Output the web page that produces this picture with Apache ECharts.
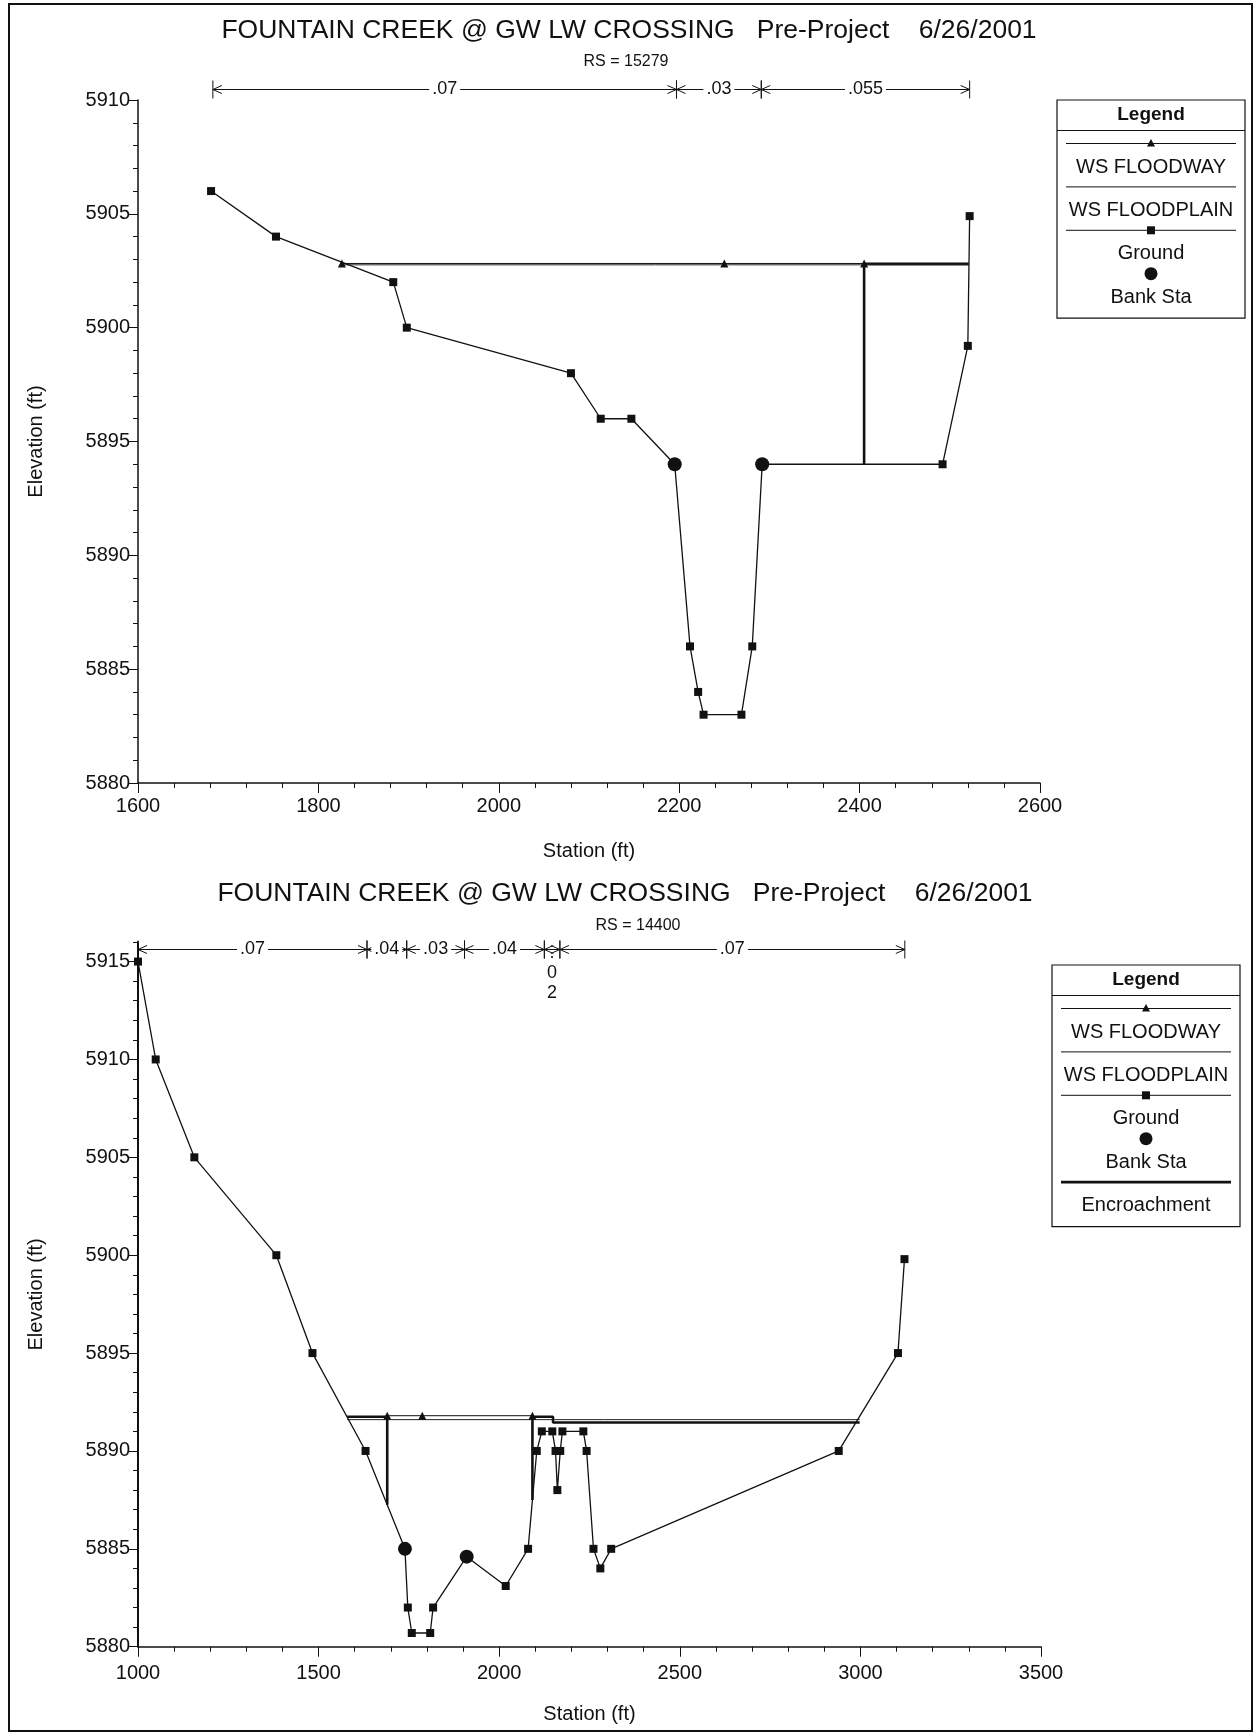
<!DOCTYPE html>
<html>
<head>
<meta charset="utf-8">
<script src="https://cdn.jsdelivr.net/npm/echarts@6.0.0/dist/echarts.min.js"></script>
<style>
  html, body { margin: 0; padding: 0; background: #ffffff; }
  #chart { width: 1256px; height: 1735px; }
</style>
</head>
<body>
<div id="chart"></div>
<script>
const FONT = "'Liberation Sans', Arial, Helvetica, sans-serif";
const INK = '#111111';

// ---------- Cross section RS = 15279 ----------
const title1 = 'FOUNTAIN CREEK @ GW LW CROSSING   Pre-Project    6/26/2001';
const rs1 = 'RS = 15279';
const groundSta1  = [1681, 1753, 1883, 1898, 2080, 2113, 2147, 2195, 2212, 2221, 2227, 2269, 2281, 2292, 2492, 2520, 2522];
const groundElev1 = [5906, 5904, 5902, 5900, 5898, 5896, 5896, 5894, 5886, 5884, 5883, 5883, 5886, 5894, 5894, 5899.2, 5904.9];
const bankSta1  = [2195, 2292];
const bankElev1 = [5894, 5894];
const floodwaySta1 = [1826, 2250, 2405];
const floodwayWs1 = 5902.82;
const floodplainSta1 = [1826, 2521];
const floodplainWs1 = 5902.76;
const encroachSta1  = [2405, 2405, 2521];
const encroachElev1 = [5894, 5902.8, 5902.8];
const nBreaks1 = [1683, 2197, 2291, 2522];
const nValues1 = ['.07', '.03', '.055'];
const xTicks1 = [1600, 1800, 2000, 2200, 2400, 2600];
const yTicks1 = [5880, 5885, 5890, 5895, 5900, 5905, 5910];

// ---------- Cross section RS = 14400 ----------
const title2 = 'FOUNTAIN CREEK @ GW LW CROSSING   Pre-Project    6/26/2001';
const rs2 = 'RS = 14400';
const groundSta2  = [1000, 1049, 1156, 1383, 1483, 1630, 1739, 1747, 1758, 1809, 1817, 1910, 2018, 2080, 2104, 2118, 2147, 2156, 2161, 2169, 2175, 2233, 2242, 2261, 2280, 2310, 2940, 3104, 3122];
const groundElev2 = [5915, 5910, 5905, 5900, 5895, 5890, 5885, 5882, 5880.7, 5880.7, 5882, 5884.6, 5883.1, 5885, 5890, 5891, 5891, 5890, 5888, 5890, 5891, 5891, 5890, 5885, 5884, 5885, 5890, 5895, 5899.8];
const bankSta2  = [1739, 1910];
const bankElev2 = [5885, 5884.6];
const floodwaySta2 = [1690, 1787, 2092];
const floodwayWs2 = 5891.8;
const floodplainSta2 = [1579, 2998];
const floodplainWs2 = 5891.6;
const encroachLeftSta2  = [1579, 1690, 1690];
const encroachLeftElev2 = [5891.75, 5891.75, 5887.25];
const encroachRightSta2  = [2092, 2092, 2149, 2149, 2998];
const encroachRightElev2 = [5887.5, 5891.75, 5891.75, 5891.45, 5891.45];
const nBreaks2 = [1000, 1634, 1744, 1904, 2125, 2168, 3123];
const nValues2 = ['.07', '.04', '.03', '.04', '.02', '.07'];
const xTicks2 = [1000, 1500, 2000, 2500, 3000, 3500];
const yTicks2 = [5880, 5885, 5890, 5895, 5900, 5905, 5910, 5915];
const yTop2 = 5916;

// elevation at which the Manning's n bar is drawn above each plot
const nBarElev1 = 5910.5;
const nBarElev2 = 5915.62;

const zip = (xs, ys) => xs.map((x, i) => [x, ys[i]]);
const flat = (xs, y) => xs.map(x => [x, y]);
const plain = v => String(v);

const axisLineStyle = { color: INK, width: 1.5 };
const tickStyle = { color: INK, width: 1 };

function xAxisFor(grid, ticks, labelMargin) {
  return {
    gridIndex: grid, type: 'value',
    min: ticks[0], max: ticks[ticks.length - 1], interval: ticks[1] - ticks[0],
    axisLine: { show: true, onZero: false, lineStyle: axisLineStyle },
    axisTick: { show: true, inside: false, length: 10, lineStyle: tickStyle },
    minorTick: { show: true, splitNumber: 5, length: 5, lineStyle: tickStyle },
    splitLine: { show: false }, minorSplitLine: { show: false },
    axisLabel: { color: INK, fontSize: 20, fontFamily: FONT, margin: labelMargin, formatter: plain },
    name: 'Station (ft)', nameLocation: 'middle', nameGap: 58,
    nameTextStyle: { color: INK, fontSize: 20, fontFamily: FONT }
  };
}

// Manning's n segments: arrows between break stations with the n value centred
function nBarSeries(grid, breaks, labels, elev) {
  return {
    type: 'custom', xAxisIndex: grid, yAxisIndex: grid === 0 ? 0 : 1,
    clip: false, silent: true, z: 5,
    data: breaks.slice(0, -1).map((b, i) => [b, breaks[i + 1]]),
    encode: { x: [0, 1] },
    renderItem: function (params, api) {
      const i = params.dataIndex;
      const p0 = api.coord([breaks[i], elev]);
      const p1 = api.coord([breaks[i + 1], elev]);
      const y = Math.round(p0[1]) + 0.5, x0 = p0[0], x1 = p1[0];
      const ls = { stroke: INK, lineWidth: 1, fill: null };
      const wide = (x1 - x0) > 34;
      const kids = [
        { type: 'line', shape: { x1: x0, y1: y, x2: x1, y2: y }, style: ls },
        { type: 'polyline', shape: { points: [[x0 + 9, y - 4], [x0, y], [x0 + 9, y + 4]] }, style: ls },
        { type: 'polyline', shape: { points: [[x1 - 9, y - 4], [x1, y], [x1 - 9, y + 4]] }, style: ls },
        { type: 'line', shape: { x1: x0, y1: y - 9, x2: x0, y2: y + 9 }, style: ls },
        { type: 'line', shape: { x1: x1, y1: y - 9, x2: x1, y2: y + 9 }, style: ls }
      ];
      if (wide) {
        kids.push({ type: 'text', x: (x0 + x1) / 2, y: y, z2: 10,
          style: { text: labels[i], fill: INK, font: '18px ' + FONT, align: 'center', verticalAlign: 'middle',
                   backgroundColor: '#ffffff', padding: [0, 3] } });
      } else {
        kids.push({ type: 'text', x: (x0 + x1) / 2, y: y - 6, z2: 10,
          style: { text: labels[i].split('').join('\n'), fill: INK, font: '18px ' + FONT, align: 'center',
                   verticalAlign: 'top', lineHeight: 20 } });
      }
      return { type: 'group', children: kids };
    }
  };
}

function lineSeries(grid, data, opts) {
  return Object.assign({
    type: 'line', xAxisIndex: grid, yAxisIndex: grid === 0 ? 0 : 1, data: data,
    symbol: 'none', animation: false, silent: true,
    lineStyle: { color: INK, width: 1 }, itemStyle: { color: INK }
  }, opts);
}

function sectionSeries(grid, s) {
  const out = [];
  s.encroach.forEach(e => out.push(lineSeries(grid, e, { lineStyle: { color: INK, width: 2.6 }, z: 3 })));
  out.push(lineSeries(grid, s.floodplain, { lineStyle: { color: '#222', width: 1 }, z: 3 }));
  out.push(lineSeries(grid, s.floodway, { symbol: 'triangle', symbolSize: 8, showAllSymbol: true, lineStyle: { color: INK, width: 1 }, z: 4 }));
  out.push(lineSeries(grid, s.ground, { symbol: 'rect', symbolSize: 8, showAllSymbol: true, lineStyle: { color: INK, width: 1.3 }, z: 6 }));
  out.push({ type: 'scatter', xAxisIndex: grid, yAxisIndex: grid === 0 ? 0 : 1, data: s.banks,
             symbol: 'circle', symbolSize: 14, itemStyle: { color: INK, opacity: 1, borderWidth: 0 }, z: 7, silent: true });
  return out;
}

// HEC-RAS style legend box: sample drawn above each label
function legendBox(left, top, width, kinds) {
  const kids = [];
  const right = left + width, cx = left + width / 2;
  const step = 43.4;
  const lastLabel = top + 43.5 + (kinds.length - 1) * step + 23.5;
  const bottom = lastLabel + 21;
  kids.push({ type: 'rect', shape: { x: left, y: top, width: width, height: bottom - top },
              style: { fill: '#ffffff', stroke: INK, lineWidth: 1.2 } });
  kids.push({ type: 'text', x: cx, y: top + 15, style: { text: 'Legend', font: 'bold 19px ' + FONT, fill: INK, align: 'center', verticalAlign: 'middle' } });
  kids.push({ type: 'line', shape: { x1: left, y1: top + 30.5, x2: right, y2: top + 30.5 }, style: { stroke: INK, lineWidth: 1 } });
  const names = { floodway: 'WS FLOODWAY', floodplain: 'WS FLOODPLAIN', ground: 'Ground', bank: 'Bank Sta', encroach: 'Encroachment' };
  kinds.forEach((k, i) => {
    const sy = top + 43.5 + i * step;
    const lx0 = left + 9, lx1 = right - 9;
    if (k === 'floodway' || k === 'floodplain' || k === 'ground') {
      kids.push({ type: 'line', shape: { x1: lx0, y1: sy, x2: lx1, y2: sy }, style: { stroke: INK, lineWidth: 1 } });
    }
    if (k === 'encroach') {
      kids.push({ type: 'line', shape: { x1: lx0, y1: sy, x2: lx1, y2: sy }, style: { stroke: INK, lineWidth: 2.6 } });
    }
    if (k === 'floodway') {
      kids.push({ type: 'polygon', shape: { points: [[cx, sy - 4.5], [cx + 4, sy + 3], [cx - 4, sy + 3]] }, style: { fill: INK } });
    }
    if (k === 'ground') {
      kids.push({ type: 'rect', shape: { x: cx - 4, y: sy - 4, width: 8, height: 8 }, style: { fill: INK } });
    }
    if (k === 'bank') {
      kids.push({ type: 'circle', shape: { cx: cx, cy: sy, r: 6.5 }, style: { fill: INK } });
    }
    kids.push({ type: 'text', x: cx, y: sy + 23.5, style: { text: names[k], font: '20px ' + FONT, fill: INK, align: 'center', verticalAlign: 'middle' } });
  });
  return { type: 'group', silent: true, children: kids };
}

function centredText(x, y, text, size) {
  return { type: 'text', x: x, y: y, silent: true,
           style: { text: text, font: size + 'px ' + FONT, fill: INK, align: 'center', verticalAlign: 'middle' } };
}

const section1 = {
  ground: zip(groundSta1, groundElev1),
  banks: zip(bankSta1, bankElev1),
  floodway: flat(floodwaySta1, floodwayWs1),
  floodplain: flat(floodplainSta1, floodplainWs1),
  encroach: [zip(encroachSta1, encroachElev1)]
};
const section2 = {
  ground: zip(groundSta2, groundElev2),
  banks: zip(bankSta2, bankElev2),
  floodway: flat(floodwaySta2, floodwayWs2),
  floodplain: flat(floodplainSta2, floodplainWs2),
  encroach: [zip(encroachLeftSta2, encroachLeftElev2), zip(encroachRightSta2, encroachRightElev2)]
};

const yLabelStyle = { color: INK, fontSize: 20, fontFamily: FONT, margin: 8, formatter: plain };
const yNameStyle = { color: INK, fontSize: 20, fontFamily: FONT };

const option = {
  backgroundColor: '#ffffff',
  animation: false,
  grid: [
    { left: 138, top: 100, width: 902, height: 683 },
    { left: 138, top: 942, width: 903, height: 704.7 }
  ],
  xAxis: [xAxisFor(0, xTicks1, 13), xAxisFor(1, xTicks2, 17)],
  yAxis: [
    {
      gridIndex: 0, type: 'value',
      min: yTicks1[0], max: yTicks1[yTicks1.length - 1], interval: yTicks1[1] - yTicks1[0],
      axisLine: { show: true, onZero: false, lineStyle: axisLineStyle },
      axisTick: { show: true, inside: false, length: 10, lineStyle: tickStyle },
      minorTick: { show: true, splitNumber: 5, length: 5, lineStyle: tickStyle },
      splitLine: { show: false }, minorSplitLine: { show: false },
      axisLabel: yLabelStyle,
      name: 'Elevation (ft)', nameLocation: 'middle', nameGap: 92, nameRotate: 90, nameTextStyle: yNameStyle
    },
    {
      gridIndex: 1, type: 'value',
      min: yTicks2[0], max: yTop2, interval: yTicks2[1] - yTicks2[0],
      axisLine: { show: true, onZero: false, lineStyle: { color: INK, width: 2 } },
      axisTick: { show: true, inside: false, length: 10, lineStyle: tickStyle, customValues: yTicks2 },
      minorTick: { show: false },
      splitLine: { show: false },
      axisLabel: Object.assign({ customValues: yTicks2 }, yLabelStyle),
      name: 'Elevation (ft)', nameLocation: 'middle', nameGap: 92, nameRotate: 90, nameTextStyle: yNameStyle
    },
    {
      // one-foot ticks along the lower elevation axis
      gridIndex: 1, type: 'value', position: 'left',
      min: yTicks2[0], max: yTop2, interval: 1,
      axisLine: { show: false },
      axisTick: { show: true, inside: false, length: 5, lineStyle: tickStyle },
      axisLabel: { show: false }, splitLine: { show: false }
    }
  ],
  series: [].concat(
    sectionSeries(0, section1),
    sectionSeries(1, section2),
    [nBarSeries(0, nBreaks1, nValues1, nBarElev1), nBarSeries(1, nBreaks2, nValues2, nBarElev2)]
  ),
  graphic: [
    { type: 'rect', silent: true, shape: { x: 9, y: 4, width: 1243, height: 1727 }, style: { fill: null, stroke: INK, lineWidth: 2 } },
    centredText(629, 31, title1, 26.5),
    centredText(626, 62, rs1, 16),
    centredText(625, 894, title2, 26.5),
    centredText(638, 926, rs2, 16),
    legendBox(1057, 100, 188, ['floodway', 'floodplain', 'ground', 'bank']),
    legendBox(1052, 965, 188, ['floodway', 'floodplain', 'ground', 'bank', 'encroach'])
  ]
};

const chart = echarts.init(document.getElementById('chart'), null, { renderer: 'canvas' });
chart.setOption(option);
</script>
</body>
</html>
